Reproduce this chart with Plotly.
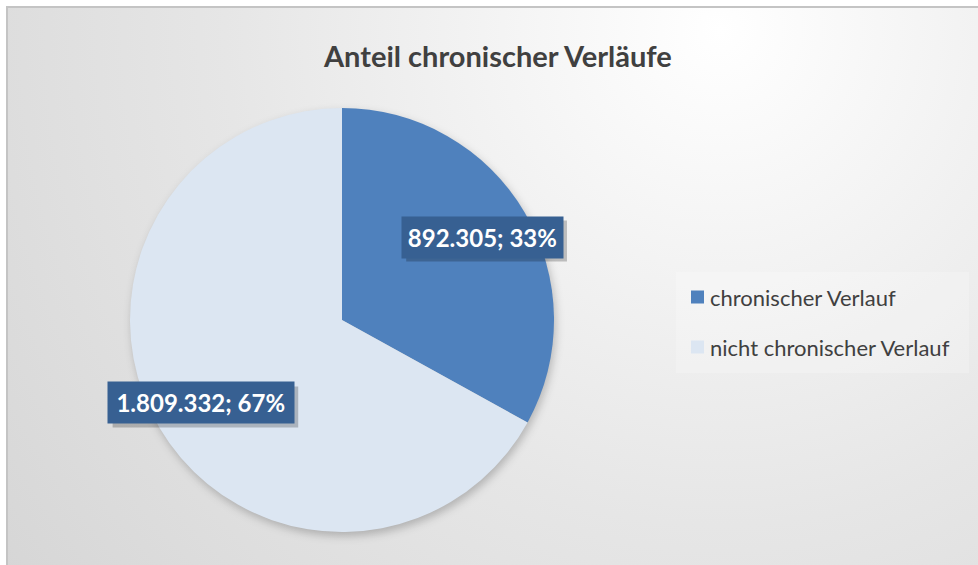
import base64
import math
import plotly.graph_objects as go

# ---- data ----
labels = ["chronischer Verlauf", "nicht chronischer Verlauf"]
values = [892305, 1809332]
colors = ["#4F81BD", "#DCE6F2"]
title_text = "Anteil chronischer Verläufe"

W, H = 978, 565
cx, cy, R = 342, 320, 212  # pie centre / radius in px

def fmt_de(v):
    return f"{v:,}".replace(",", ".")

total = sum(values)
pcts = [v / total for v in values]
label_texts = [f"{fmt_de(v)}; {round(p*100)}%" for v, p in zip(values, pcts)]

# background gradient (and soft pie shadow) as svg
svg = f'''<svg xmlns="http://www.w3.org/2000/svg" width="{W}" height="{H}" viewBox="0 0 {W} {H}">
<defs><radialGradient id="g" gradientUnits="userSpaceOnUse" cx="720" cy="30" r="900">
<stop offset="0" stop-color="#ffffff"/><stop offset="0.55" stop-color="#e6e6e6"/><stop offset="1" stop-color="#d6d6d6"/>
</radialGradient>
<filter id="b" x="-20%" y="-20%" width="140%" height="140%"><feGaussianBlur stdDeviation="4"/></filter></defs>
<rect x="0" y="0" width="{W}" height="{H}" fill="#ffffff"/>
<rect x="7" y="7" width="{W}" height="{H}" fill="url(#g)"/>
<circle cx="{cx + 2}" cy="{cy + 4}" r="{R}" fill="rgba(0,0,0,0.22)" filter="url(#b)"/>
</svg>'''
bg_src = "data:image/svg+xml;base64," + base64.b64encode(svg.encode()).decode()

fig = go.Figure()
fig.add_trace(go.Pie(
    labels=labels, values=values, sort=False, direction="clockwise", rotation=0,
    marker=dict(colors=colors, line=dict(width=0)),
    textinfo="none", hoverinfo="label+value+percent", showlegend=False,
    domain=dict(x=[(cx - R) / W, (cx + R) / W], y=[1 - (cy + R) / H, 1 - (cy - R) / H]),
))

annotations = []
shapes = []
# data labels positioned at slice mid angles
cum = 0.0
pad, bh = 6, 29
for p, txt in zip(pcts, label_texts):
    mid = (cum + p / 2) * 2 * math.pi
    cum += p
    px = cx + 0.77 * R * math.sin(mid)
    py = cy - 0.77 * R * math.cos(mid)
    bw = 12.4 * len(txt)
    hw, hh = bw / 2 + pad, bh / 2 + pad
    # shadow
    shapes.append(dict(type="rect", xref="paper", yref="paper",
                       x0=(px - hw + 4) / W, x1=(px + hw + 4) / W,
                       y0=1 - (py + hh + 4) / H, y1=1 - (py - hh + 4) / H,
                       fillcolor="rgba(0,0,0,0.22)", line=dict(width=0)))
    annotations.append(dict(x=px / W, y=1 - py / H, xref="paper", yref="paper", showarrow=False,
                            text=txt, borderpad=pad, width=bw, height=bh,
                            xanchor="center", yanchor="middle", align="center", valign="middle",
                            font=dict(family="Lato", size=24, color="white", weight="bold"),
                            bgcolor="#376092"))

# title
annotations.append(dict(x=497 / W, y=1 - 55 / H, xref="paper", yref="paper", showarrow=False,
                        text=f"<b>{title_text}</b>", font=dict(family="Lato", size=29, color="#404040"),
                        xanchor="center", yanchor="middle"))

shapes += [
    # chart border
    dict(type="line", xref="paper", yref="paper", x0=7 / W, x1=7 / W, y0=0, y1=1 - 6 / H,
         line=dict(color="#c4c4c4", width=2)),
    dict(type="line", xref="paper", yref="paper", x0=6 / W, x1=1, y0=1 - 7 / H, y1=1 - 7 / H,
         line=dict(color="#c4c4c4", width=2)),
    # legend box
    dict(type="rect", xref="paper", yref="paper", x0=676 / W, x1=969 / W, y0=1 - 373 / H, y1=1 - 272 / H,
         fillcolor="rgba(255,255,255,0.22)", line=dict(width=0), layer="below"),
]
leg_y = [297, 347]
for lab, col, ly in zip(labels, colors, leg_y):
    shapes.append(dict(type="rect", xref="paper", yref="paper", x0=691 / W, x1=704 / W,
                       y0=1 - (ly + 6.5) / H, y1=1 - (ly - 6.5) / H, fillcolor=col, line=dict(width=0)))
    annotations.append(dict(x=708 / W, y=1 - ly / H, xref="paper", yref="paper", showarrow=False,
                            text=lab, font=dict(family="Lato", size=22, color="#404040"),
                            xanchor="left", yanchor="middle"))

fig.update_layout(
    width=W, height=H, margin=dict(l=0, r=0, t=0, b=0),
    paper_bgcolor="white", plot_bgcolor="rgba(0,0,0,0)",
    images=[dict(source=bg_src, xref="paper", yref="paper", x=0, y=1, sizex=1, sizey=1,
                 sizing="stretch", layer="below", xanchor="left", yanchor="top")],
    annotations=annotations, shapes=shapes,
)
fig.write_html("out.html", config={"displayModeBar": False},
               post_script="document.body.style.margin='0';document.body.style.overflow='hidden';")
